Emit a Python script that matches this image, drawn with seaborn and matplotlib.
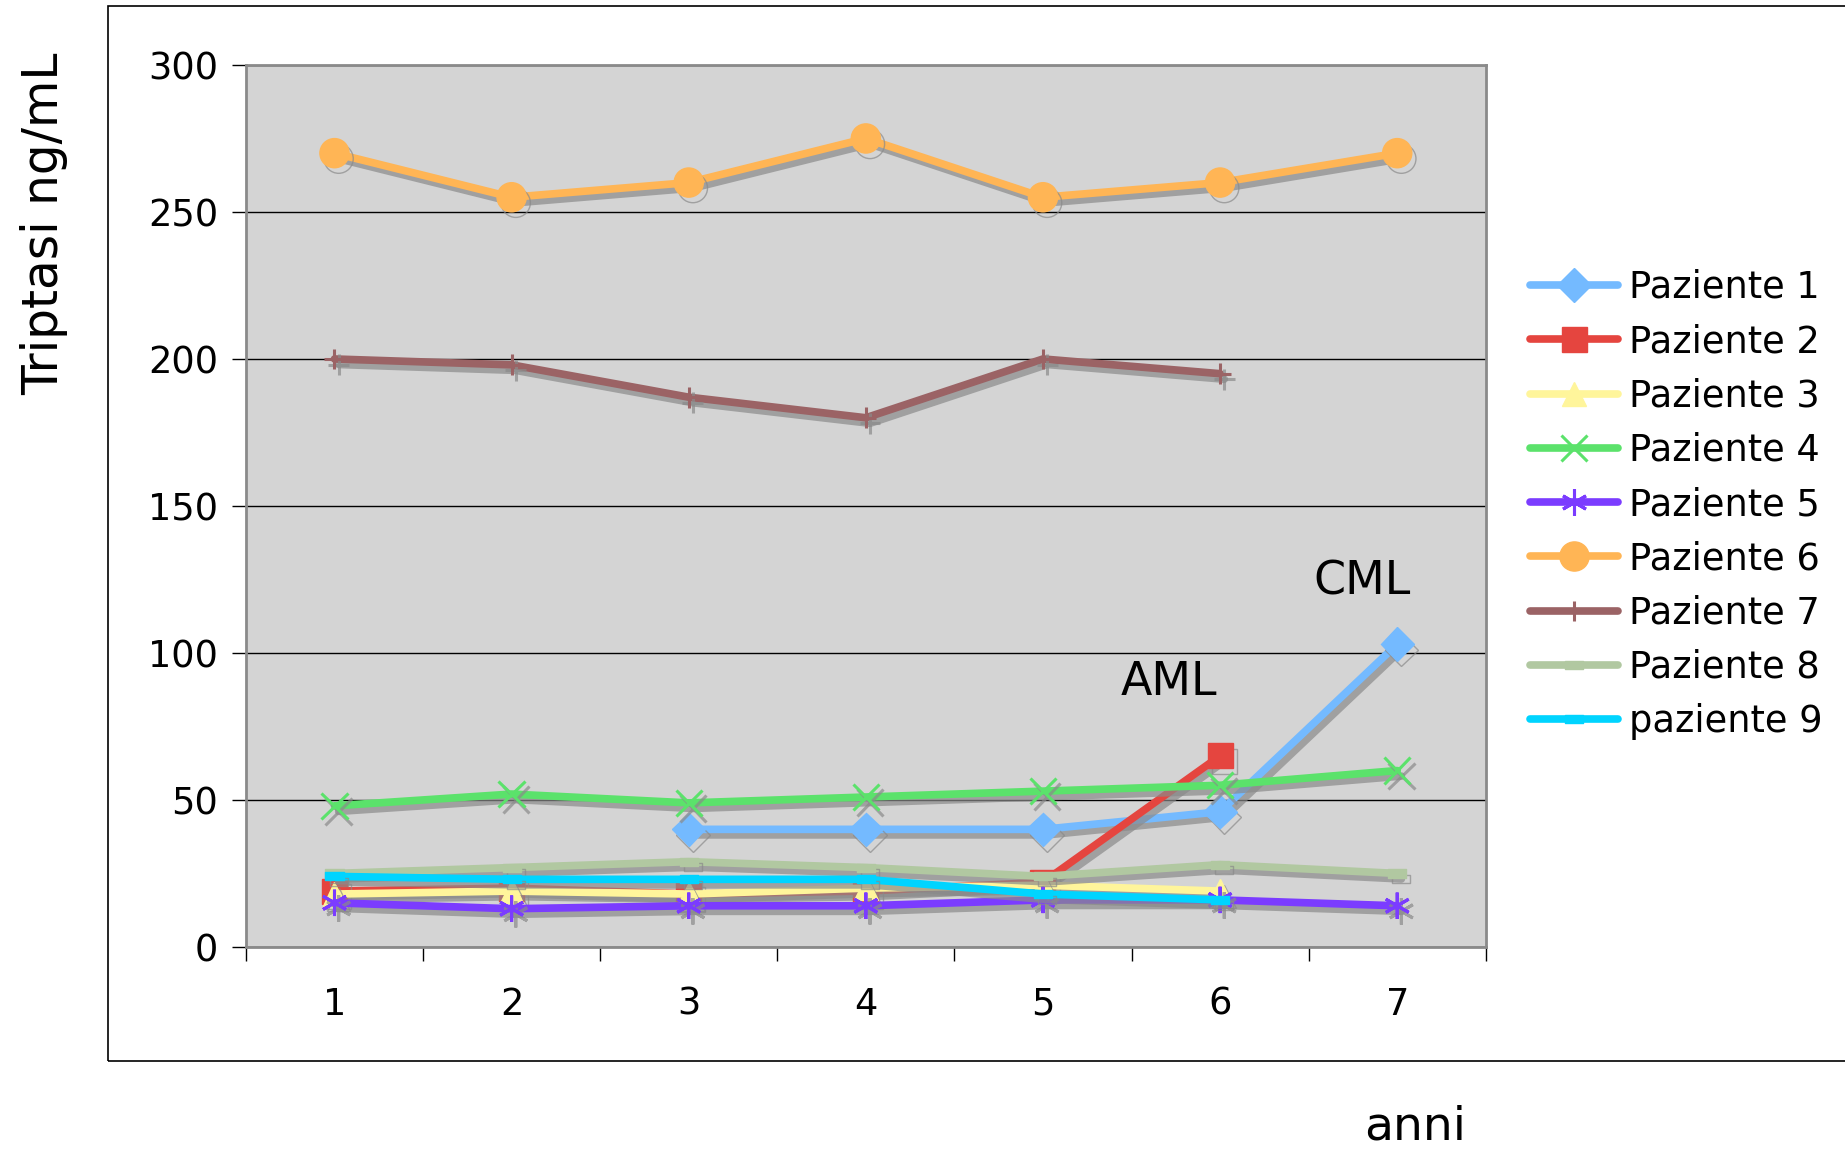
import numpy as np
import pandas as pd
import matplotlib
matplotlib.use("Agg")
import matplotlib.pyplot as plt
import matplotlib.patheffects as pe
from matplotlib.patches import Rectangle
from matplotlib.path import Path
import seaborn as sns

# ------------------------------------------------------------------
# Dati
# ------------------------------------------------------------------
anni = [1, 2, 3, 4, 5, 6, 7]
paziente_1 = [np.nan, np.nan, 40, 40, 40, 46, 103]
paziente_2 = [19, 20, 18, 19, 22, 65, np.nan]
paziente_3 = [18, 19, 18, 20, 21, 19, np.nan]
paziente_4 = [48, 52, 49, 51, 53, 55, 60]
paziente_5 = [15, 13, 14, 14, 16, 16, 14]
paziente_6 = [270, 255, 260, 275, 255, 260, 270]
paziente_7 = [200, 198, 187, 180, 200, 195, np.nan]
paziente_8 = [25, 27, 29, 27, 24, 28, 25]
paziente_9 = [24, 23, 23, 23, 18, 16, np.nan]

nomi = ["Paziente 1", "Paziente 2", "Paziente 3", "Paziente 4", "Paziente 5",
        "Paziente 6", "Paziente 7", "Paziente 8", "paziente 9"]
serie = [paziente_1, paziente_2, paziente_3, paziente_4, paziente_5,
         paziente_6, paziente_7, paziente_8, paziente_9]
colori = ["#74BAFF", "#E5453F", "#FFF59B", "#5BE26B", "#7B3CFF",
          "#FFB555", "#9B6365", "#B1C8A1", "#00D4FF"]

# marker "trattino" stile Excel
dash = Path([(-1, -0.45), (1, -0.45), (1, 0.45), (-1, 0.45), (-1, -0.45)],
            [Path.MOVETO, Path.LINETO, Path.LINETO, Path.LINETO, Path.CLOSEPOLY])
marker = ["D", "s", "^", "x", (6, 2, 0), "o", "+", dash, dash]
msize = [17, 18, 17, 19, 19, 21, 15, 13, 13]
mew = [1, 1, 1, 2.2, 2.2, 1, 2.2, 1, 1]

# ------------------------------------------------------------------
# Grafico
# ------------------------------------------------------------------
sns.set_style("white")
plt.rcParams['font.family'] = ['DejaVu Sans']
plt.rcParams['text.color'] = 'black'
plt.rcParams['xtick.color'] = 'black'
plt.rcParams['ytick.color'] = 'black'

fig = plt.figure(figsize=(18.45, 11.52), dpi=100)
ax = fig.add_axes([0.1333, 0.178, 0.672, 0.7656])
ax.set_facecolor("#D4D4D4")

# cornice esterna
fig.patches.append(Rectangle((0.0585, 0.079), 0.96, 0.916, transform=fig.transFigure,
                             fill=False, edgecolor="black", linewidth=1.2))

ombra = [pe.SimpleLineShadow(offset=(3, -4), shadow_color="#8a8a8a", alpha=0.7),
         pe.Normal()]

for nome, vals, col, mk, ms, mw in zip(nomi, serie, colori, marker, msize, mew):
    d = pd.DataFrame({"anno": anni, "valore": vals}).dropna()
    sns.lineplot(data=d, x="anno", y="valore", ax=ax, color=col, linewidth=5.5,
                 marker=mk, markersize=ms, markeredgecolor=col, markerfacecolor=col,
                 markeredgewidth=mw, label=nome, path_effects=ombra)

ax.set_xlim(0.5, 7.5)
ax.set_ylim(0, 300)
ax.set_yticks(range(0, 301, 50))
ax.set_xticks(anni)
ax.set_xticks(np.arange(0.5, 7.6, 1), minor=True)
ax.yaxis.grid(True, color="black", linewidth=1)
ax.xaxis.grid(False)
ax.set_axisbelow(True)
ax.tick_params(axis="y", which="major", direction="out", length=10, width=1,
               color="black", labelsize=26.5, pad=10, left=True)
ax.tick_params(axis="x", which="major", length=0, labelsize=26.5, pad=28)
ax.tick_params(axis="x", which="minor", direction="out", length=10, width=1,
               color="black", bottom=True)
ax.set_xlabel("")
ax.set_ylabel("")
for s in ax.spines.values():
    s.set_color("#8a8a8a")
    s.set_linewidth(2)

ax.text(6.8, 124, "CML", fontsize=33, ha="center", va="center")
ax.text(5.71, 90, "AML", fontsize=33, ha="center", va="center")

fig.text(0.024, 0.806, "Triptasi ng/mL", rotation=90, fontsize=35,
         ha="center", va="center")
fig.text(0.767, 0.022, "anni", fontsize=34, ha="center", va="center")

leg = ax.legend(loc="center left", bbox_to_anchor=(0.829, 0.562),
                bbox_transform=fig.transFigure, frameon=False, fontsize=26.5,
                handlelength=2.4, handletextpad=0.3, labelspacing=0.47,
                borderpad=0, borderaxespad=0)
for h in leg.legend_handles:
    h.set_path_effects([])

fig.savefig("out.png", dpi=100)
